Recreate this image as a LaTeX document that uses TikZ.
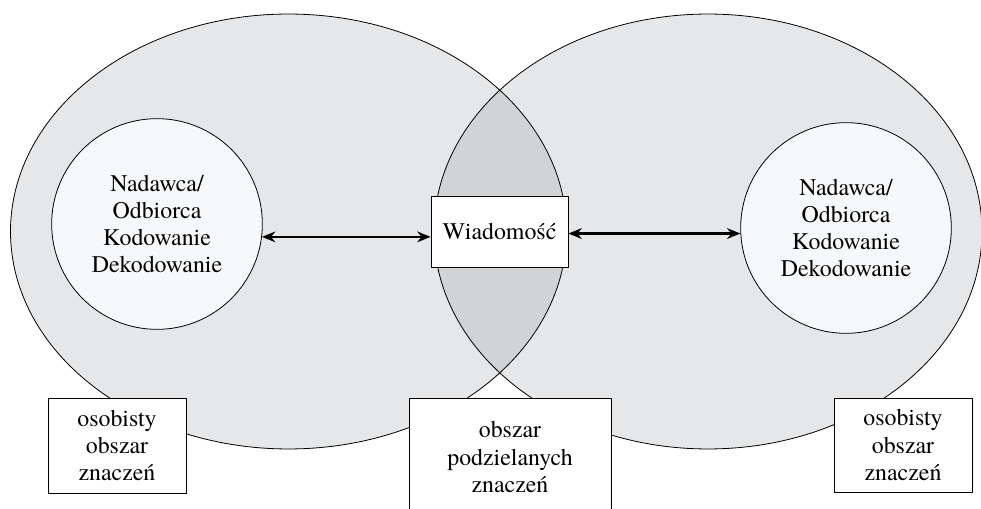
\documentclass[tikz,border=0pt]{standalone}
\usepackage{fontspec}
\setmainfont{texgyretermes-regular.otf}
\usetikzlibrary{arrows.meta}
\definecolor{ellfill}{RGB}{230,231,232}
\definecolor{midfill}{RGB}{209,211,212}
\definecolor{innerfill}{RGB}{247,248,250}
\begin{document}
\begin{tikzpicture}[x=0.75pt,y=-0.75pt,
  txt/.style={font=\fontsize{17.9}{20.3}\selectfont, align=center},
  innercirc/.style={circle, draw=black, line width=0.6pt, fill=innerfill, minimum size=158pt, inner sep=0pt, txt},
  lbl/.style={draw=black, line width=0.6pt, fill=white, inner sep=0pt, txt},
  outline/.style={draw=black, line width=0.6pt},
  arr/.style={{Stealth[length=10pt,width=8pt]}-{Stealth[length=10pt,width=8pt]}, line width=1.9pt}]
\useasboundingbox (0,0) rectangle (981,509);
\clip (0,0) rectangle (981,509);
% ellipses
\fill[ellfill] (288.5,231.5) ellipse [x radius=208.5pt, y radius=163.1pt];
\fill[ellfill] (708,231.5) ellipse [x radius=205.5pt, y radius=163.1pt];
\begin{scope}
  \clip (288.5,231.5) ellipse [x radius=208.5pt, y radius=163.1pt];
  \fill[midfill] (708,231.5) ellipse [x radius=205.5pt, y radius=163.1pt];
\end{scope}
\draw[outline] (288.5,231.5) ellipse [x radius=208.5pt, y radius=163.1pt];
\draw[outline] (708,231.5) ellipse [x radius=205.5pt, y radius=163.1pt];
% nodes
\node[innercirc] (lc) at (157,224) {Nadawca/\\Odbiorca\\Kodowanie\\Dekodowanie};
\node[innercirc] (rc) at (846,228) {Nadawca/\\Odbiorca\\Kodowanie\\Dekodowanie};
\node[lbl, minimum width=102.75pt, minimum height=53.25pt] (msg) at (499.5,231.5) {Wiadomość};
\node[lbl, minimum width=103.5pt, minimum height=71.25pt] (lbox) at (117,445.5) {osobisty\\obszar\\znaczeń};
\node[lbl, minimum width=103.5pt, minimum height=70.5pt] (rbox) at (903,445) {osobisty\\obszar\\znaczeń};
\node[lbl, minimum width=151.5pt, minimum height=88.5pt] (mbox) at (510,457) {obszar\\podzielanych\\znaczeń};
% arrows
\draw[arr] (lc.-7) -- (msg.west |- lc.-7);
\draw[arr] (msg.east |- rc.183) -- (rc.183);
\end{tikzpicture}
\end{document}
